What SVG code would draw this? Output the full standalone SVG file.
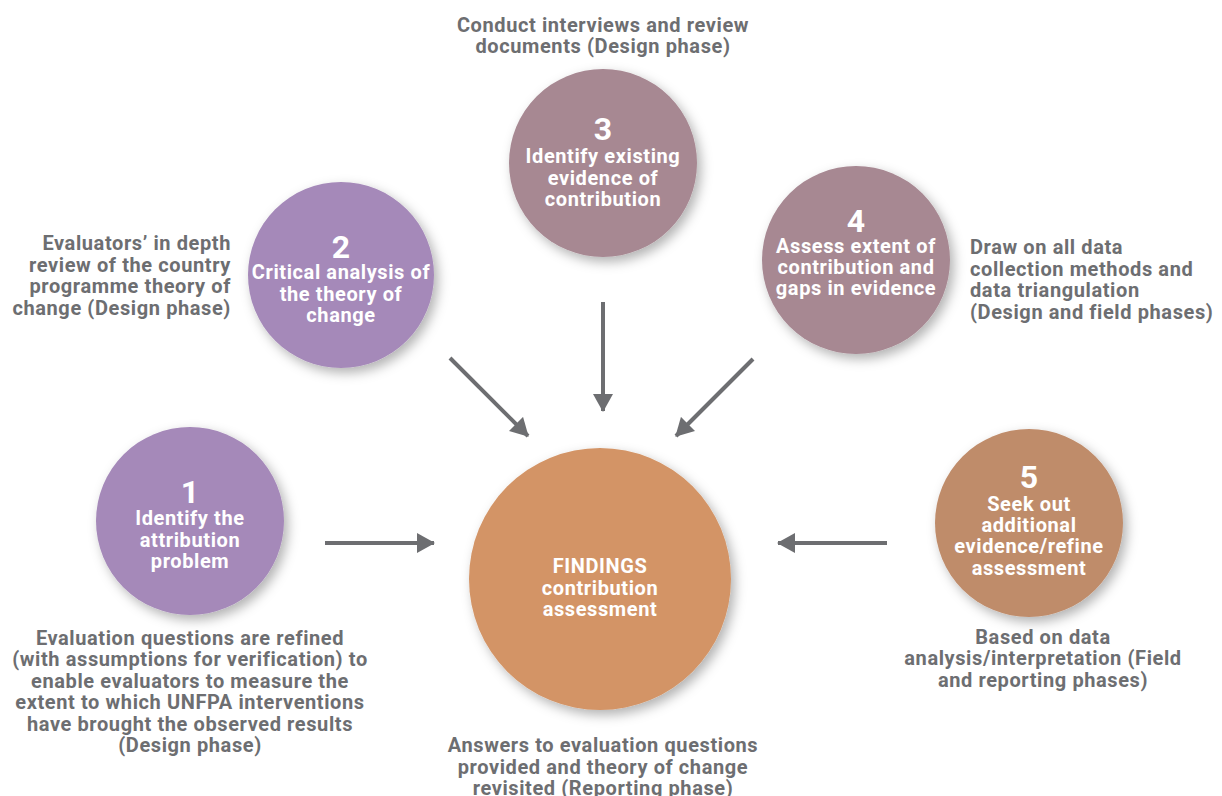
<svg xmlns="http://www.w3.org/2000/svg" width="1222" height="796" viewBox="0 0 1222 796">
<defs>
<filter id="sh" x="-30%" y="-30%" width="160%" height="160%">
<feDropShadow dx="4" dy="5" stdDeviation="6" flood-color="#000" flood-opacity="0.3"/>
</filter>
<marker id="ah" viewBox="0 0 18 20" refX="17" refY="10" markerWidth="18" markerHeight="20" markerUnits="userSpaceOnUse" orient="auto">
<path d="M0,0 L18,10 L0,20 Z" fill="#6d6e71"/>
</marker>
</defs>
<style>
text{font-family:Roboto,"Liberation Sans",sans-serif;font-weight:700;}
.lbl{font-size:20px;letter-spacing:0.6px;fill:#6d6e71;}
.in{font-size:20px;letter-spacing:0.6px;fill:#fff;text-anchor:middle;}
.num{font-size:32px;fill:#fff;text-anchor:middle;}
.c{text-anchor:middle;}
.r{text-anchor:end;}
.con line{stroke:#6d6e71;stroke-width:4;fill:none;marker-end:url(#ah);}
</style>
<rect width="1222" height="796" fill="#fff"/>

<g id="connectors" class="con">
<line x1="325" y1="543" x2="434" y2="543"/>
<line x1="887" y1="543" x2="778" y2="543"/>
<line x1="450" y1="358" x2="528" y2="436"/>
<line x1="603" y1="302" x2="603" y2="411"/>
<line x1="753" y1="359" x2="676" y2="436"/>
</g>

<g id="node-findings">
<circle cx="600" cy="579" r="131" fill="#d39466" filter="url(#sh)"/>
<text class="in" x="600" y="573">FINDINGS</text>
<text class="in" x="600" y="595">contribution</text>
<text class="in" x="600" y="616">assessment</text>
</g>

<g id="node-1">
<circle cx="190" cy="521" r="94" fill="#a589b9" filter="url(#sh)"/>
<text class="num" x="190" y="503">1</text>
<text class="in" x="190" y="525">Identify the</text>
<text class="in" x="190" y="547">attribution</text>
<text class="in" x="190" y="568">problem</text>
</g>

<g id="node-2">
<circle cx="341" cy="275" r="93" fill="#a589b9" filter="url(#sh)"/>
<text class="num" x="341" y="258">2</text>
<text class="in" x="341" y="279">Critical analysis of</text>
<text class="in" x="341" y="301">the theory of</text>
<text class="in" x="341" y="322">change</text>
</g>

<g id="node-3">
<circle cx="603" cy="163" r="94" fill="#a78892" filter="url(#sh)"/>
<text class="num" x="603" y="140">3</text>
<text class="in" x="603" y="163">Identify existing</text>
<text class="in" x="603" y="185">evidence of</text>
<text class="in" x="603" y="206">contribution</text>
</g>

<g id="node-4">
<circle cx="856" cy="260" r="94" fill="#a78892" filter="url(#sh)"/>
<text class="num" x="856" y="232">4</text>
<text class="in" x="856" y="253">Assess extent of</text>
<text class="in" x="856" y="274">contribution and</text>
<text class="in" x="856" y="295">gaps in evidence</text>
</g>

<g id="node-5">
<circle cx="1029" cy="523" r="94" fill="#bf8c6b" filter="url(#sh)"/>
<text class="num" x="1029" y="488">5</text>
<text class="in" x="1029" y="511">Seek out</text>
<text class="in" x="1029" y="532">additional</text>
<text class="in" x="1029" y="553">evidence/refine</text>
<text class="in" x="1029" y="575">assessment</text>
</g>

<g id="label-3">
<text class="lbl c" x="603" y="32">Conduct interviews and review</text>
<text class="lbl c" x="603" y="53">documents (Design phase)</text>
</g>

<g id="label-2">
<text class="lbl r" x="231" y="250">Evaluators’ in depth</text>
<text class="lbl r" x="231" y="272">review of the country</text>
<text class="lbl r" x="231" y="293">programme theory of</text>
<text class="lbl r" x="231" y="315">change (Design phase)</text>
</g>

<g id="label-4">
<text class="lbl" x="970" y="254">Draw on all data</text>
<text class="lbl" x="970" y="276">collection methods and</text>
<text class="lbl" x="970" y="297">data triangulation</text>
<text class="lbl" x="970" y="319">(Design and field phases)</text>
</g>

<g id="label-1">
<text class="lbl c" x="190" y="645">Evaluation questions are refined</text>
<text class="lbl c" x="190" y="666">(with assumptions for verification) to</text>
<text class="lbl c" x="190" y="688">enable evaluators to measure the</text>
<text class="lbl c" x="190" y="709">extent to which UNFPA interventions</text>
<text class="lbl c" x="190" y="731">have brought the observed results</text>
<text class="lbl c" x="190" y="752">(Design phase)</text>
</g>

<g id="label-5">
<text class="lbl c" x="1043" y="644">Based on data</text>
<text class="lbl c" x="1043" y="665">analysis/interpretation (Field</text>
<text class="lbl c" x="1043" y="687">and reporting phases)</text>
</g>

<g id="label-findings">
<text class="lbl c" x="603" y="752">Answers to evaluation questions</text>
<text class="lbl c" x="603" y="774">provided and theory of change</text>
<text class="lbl c" x="603" y="795">revisited (Reporting phase)</text>
</g>
</svg>
